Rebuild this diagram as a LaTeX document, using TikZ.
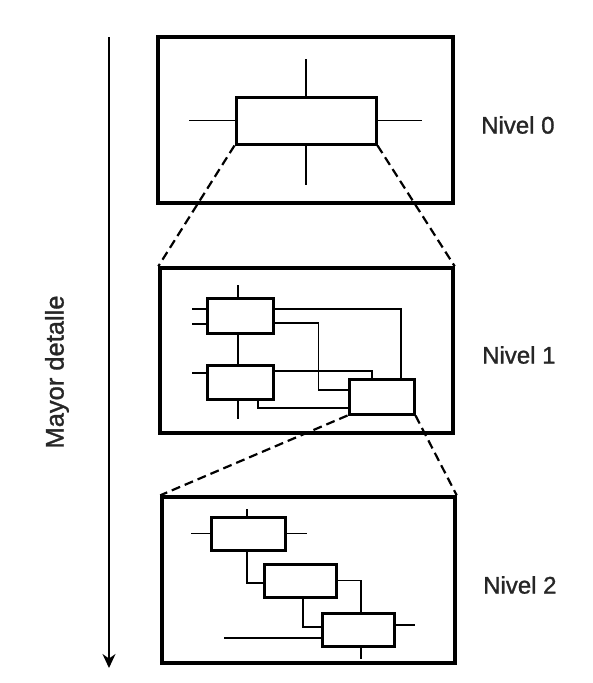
\documentclass[tikz,border=0pt]{standalone}
\usepackage{fontspec}
\setmainfont{Liberation Sans}[FakeBold=1.2]
\usetikzlibrary{arrows.meta}

\tikzset{
  marco/.style={draw, line width=3.4pt, inner sep=0pt},
  caja/.style={draw, fill=white, line width=3pt, inner sep=0pt},
  linea/.style={line width=1.5pt},
  trazo/.style={line width=2.2pt, dash pattern=on 9pt off 5pt},
  rotulo/.style={font=\fontsize{24}{28}\selectfont, anchor=west, inner sep=0pt, text=black!85}
}

\begin{document}
\begin{tikzpicture}[x=1pt, y=-1pt]
  \useasboundingbox (0,0) rectangle (593,683);

  % eje de detalle
  \coordinate (ejeA) at (109,37);
  \coordinate (ejeB) at (109,668);
  \draw[line width=1.8pt, -{Stealth[length=14pt, width=13pt]}] (ejeA) -- (ejeB);
  \node[font=\fontsize{25.5}{30}\selectfont, text=black!85, rotate=90] (detalle) at (57,372) {Mayor detalle};

  % Nivel 0
  \node[marco, minimum width=295pt, minimum height=166pt] (f0) at (305.5,120) {};
  \node[caja, minimum width=140pt, minimum height=47pt] (b0) at (306,120.5) {};
  \draw[linea] (b0.north) -- ++(0,-37);
  \draw[linea] (b0.south) -- ++(0,39);
  \draw[linea] (b0.west) -- ++(-46,0);
  \draw[linea] (b0.east) -- ++(44,0);
  \node[rotulo] (n0) at (481,125) {Nivel 0};

  % Nivel 1
  \node[marco, minimum width=293pt, minimum height=165pt] (f1) at (306.5,350.5) {};
  \node[caja, minimum width=66pt, minimum height=35pt] (A) at (240,315.5) {};
  \node[caja, minimum width=66pt, minimum height=34pt] (B) at (240,382) {};
  \node[caja, minimum width=65pt, minimum height=35pt] (C) at (381.5,396.5) {};
  \draw[linea] ([xshift=-2pt]A.north) -- ++(0,-12);
  \draw[linea] ([xshift=-2pt]A.south) -- ([xshift=-2pt]B.north);
  \draw[linea] ([xshift=-2pt]B.south) -- ++(0,18);
  \draw[linea] ([yshift=6.5pt]A.west) -- ++(-14,0);
  \draw[linea] ([yshift=-8.5pt]A.west) -- ++(-14,0);
  \draw[linea] ([yshift=9pt]B.west) -- ++(-14,0);
  \draw[linea] ([yshift=6.5pt]A.east) -| ([xshift=19.5pt]C.north);
  \draw[linea] ([yshift=-7.5pt]A.east) -- ++(44,0) |- ([yshift=6.5pt]C.west);
  \draw[linea] ([yshift=11pt]B.east) -| ([xshift=-9.5pt]C.north);
  \draw[linea] ([xshift=18pt]B.south) |- ([yshift=-11.5pt]C.west);
  \node[rotulo] (n1) at (482,355) {Nivel 1};

  % Nivel 2
  \node[marco, minimum width=293pt, minimum height=166pt] (f2) at (308.5,580) {};
  \node[caja, minimum width=74pt, minimum height=33pt] (D) at (248,533.5) {};
  \node[caja, minimum width=72pt, minimum height=33pt] (E) at (300,580.5) {};
  \node[caja, minimum width=72pt, minimum height=33pt] (F) at (358,629.5) {};
  \draw[linea] ([xshift=-1pt]D.north) -- ++(0,-7);
  \draw[linea] (D.west) -- ++(-19,0);
  \draw[linea] (D.east) -- ++(20,0);
  \draw[linea] ([xshift=-1pt]D.south) |- ([yshift=-2.5pt]E.west);
  \draw[linea] (E.east) -| ([xshift=3pt]F.north);
  \draw[linea] ([xshift=3pt]E.south) |- ([yshift=2.5pt]F.west);
  \draw[linea] ([yshift=-8.5pt]F.west) -- ++(-97,0);
  \draw[linea] ([yshift=4.5pt]F.east) -- ++(19,0);
  \draw[linea] ([xshift=3pt]F.south) -- ++(0,11);
  \node[rotulo] (n2) at (483,585) {Nivel 2};

  % ampliaciones
  \draw[trazo] (b0.south west) -- (f1.north west);
  \draw[trazo] (b0.south east) -- (f1.north east);
  \draw[trazo] (C.south west) -- (f2.north west);
  \draw[trazo] (C.south east) -- (f2.north east);
\end{tikzpicture}
\end{document}
